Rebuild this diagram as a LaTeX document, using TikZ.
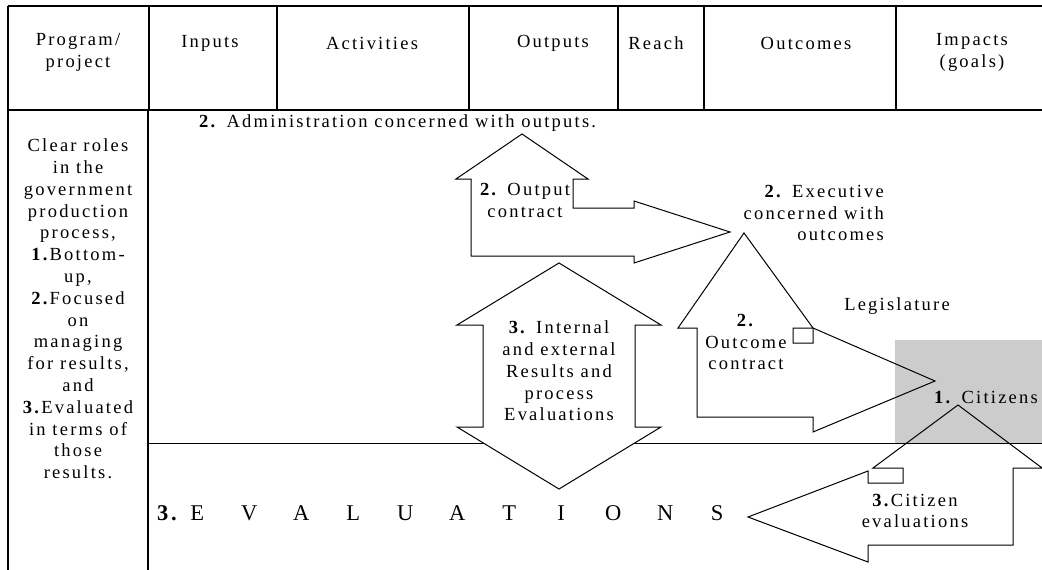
\documentclass[tikz,border=0pt]{standalone}
\usepackage{fontspec}
\setmainfont{Liberation Serif}[LetterSpace=12]
\begin{document}
\begin{tikzpicture}[x=1pt,y=-1pt,
  txt/.style={inner sep=0pt, align=center, font=\fontsize{18.5}{21.8}\selectfont},
  bigtxt/.style={inner sep=0pt, font=\fontsize{22.5}{26}\selectfont},
  tbl/.style={line width=1.3pt},
  thin/.style={line width=1pt},
  arr/.style={line width=1pt, line join=miter}]
\useasboundingbox (0,0) rectangle (1042,570);
% grey citizens area
\fill[gray!40] (895,340) rectangle (1042,443);
% table frame
\draw[tbl] (8,6) -- (1042,6);
\draw[tbl] (8,110) -- (1042,110);
\foreach \x in {8,149,277,469,618,704,896} \draw[tbl] (\x,6) -- (\x,110);
\draw[tbl] (8,110) -- (8,570);
\draw[tbl] (148,110) -- (148,570);
\draw[thin] (148,443) -- (1042,443);
% header texts
\node[txt] (hprog) at (78,52.5) {Program/\\project};
\node[txt] (hin) at (210,43) {Inputs};
\node[txt] (hact) at (372,43) {Activities};
\node[txt] (hout) at (553,43) {Outputs};
\node[txt] (hreach) at (656,43) {Reach};
\node[txt] (houtc) at (806,43) {Outcomes};
\node[txt] (himp) at (972,52.5) {Impacts\\(goals)};
% left column
\node[txt] (roles) at (78,309) {Clear roles\\in the\\government\\production\\process,\\\textbf{1.}Bottom-\\up,\\\textbf{2.}Focused\\on\\managing\\for results,\\and\\\textbf{3.}Evaluated\\in terms of\\those\\results.};
% output contract arrow
\draw[arr, fill=white] (522,134) -- (588,179) -- (573,179) -- (573,208) -- (634,208) -- (634,201)
  -- (730,232) -- (634,263) -- (634,256) -- (471,256) -- (471,179) -- (456,179) -- cycle;
% evaluations double arrow
\draw[arr, fill=white] (559,263) -- (661,325) -- (635,325) -- (635,427) -- (661,427) -- (559,489)
  -- (457,427) -- (483,427) -- (483,325) -- (457,325) -- cycle;
% outcome contract arrow
\draw[arr] (744,233) -- (678,328) -- (697,328) -- (697,417) -- (813,417) -- (813,432) -- (935,381)
  -- (813,328) -- (813,343) -- (793,343) -- (793,328) -- (813,328) -- cycle;
% citizen evaluations arrow
\draw[arr] (958,405) -- (1042,468) -- (1013,468) -- (1013,545) -- (868,545) -- (868,562) -- (748,517)
  -- (868,471) -- (868,483) -- (903,483) -- (903,468) -- (873,468) -- cycle;
% texts
\node[txt, anchor=west] (admin) at (199,123) {\textbf{2.} Administration concerned with outputs.};
\node[txt] (outcon) at (525,200.5) {\textbf{2.} Output\\contract};
\node[txt, anchor=east, align=right] (exec) at (884,213) {\textbf{2.} Executive\hspace{11pt}\\concerned with\\outcomes};
\node[txt] (evaltxt) at (559,371) {\textbf{3.} Internal\\and external\\Results and\\process\\Evaluations};
\node[txt] (outctxt) at (746,342) {\textbf{2.}\\Outcome\\contract};
\node[txt] (legis) at (897,306) {Legislature};
\node[txt] (cit) at (986,398) {\textbf{1.} Citizens};
\node[txt] (citev) at (915,511) {\textbf{3.}Citizen\\evaluations};
\node[bigtxt, anchor=west] (ev3) at (157,513) {\textbf{3.}};
\node[bigtxt, anchor=west] (evword) at (171,513) {\makebox[52pt]{E}\makebox[52pt]{V}\makebox[52pt]{A}\makebox[52pt]{L}\makebox[52pt]{U}\makebox[52pt]{A}\makebox[52pt]{T}\makebox[52pt]{I}\makebox[52pt]{O}\makebox[52pt]{N}\makebox[52pt]{S}};
\end{tikzpicture}
\end{document}
